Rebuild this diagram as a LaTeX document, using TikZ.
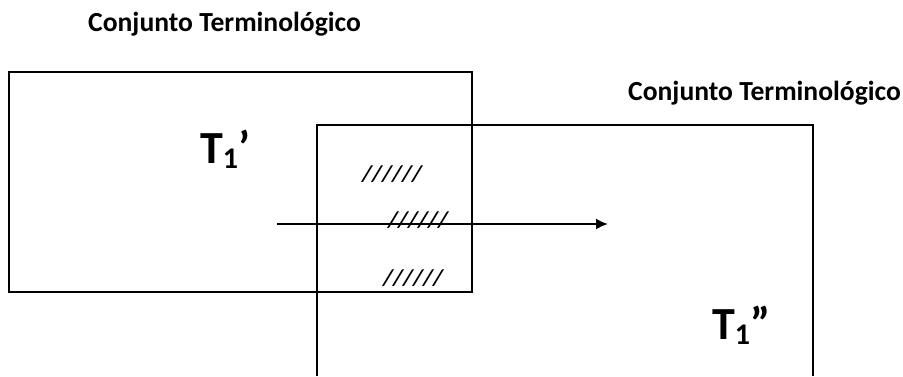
\documentclass[tikz,border=0pt]{standalone}
\usepackage{fontspec}
\setmainfont{Carlito}
\usetikzlibrary{arrows.meta}
\tikzset{
  frame/.style={draw=black, line width=2.2pt},
  setlabel/.style={anchor=base west, inner sep=0pt, font=\bfseries\fontsize{27.6}{30}\selectfont},
  term/.style={anchor=base west, inner sep=0pt, font=\bfseries\fontsize{46}{50}\selectfont},
  hatch/.style={anchor=base west, inner sep=0pt, font=\bfseries\itshape\fontsize{23}{26}\selectfont},
  flow/.style={draw=black, line width=2pt, -{Latex[length=12pt,width=11pt]}}
}
\newcommand{\subone}{\raisebox{-5pt}{\fontsize{30}{32}\selectfont 1}}
\begin{document}
\begin{tikzpicture}[x=1pt,y=-1pt]
  \useasboundingbox (0,0) rectangle (903,376);
  % the two terminological sets
  \draw[frame] (9,72) rectangle (472,292);
  \draw[frame] (317,376) -- (317,125) -- (813,125) -- (813,376);
  % headings
  \node[setlabel] (h1) at (88,31) {Conjunto Terminológico};
  \node[setlabel] (h2) at (628,100) {Conjunto Terminológico};
  % terms
  \node[term] (t1) at (200,163) {T\subone’};
  \node[term] (t2) at (712,339) {T\subone”};
  % shared zone markers
  \node[hatch] (s1) at (362,181) {//////};
  \node[hatch] (s2) at (388,227) {//////};
  \node[hatch] (s3) at (383,285) {//////};
  % transfer arrow
  \coordinate (from) at (277,224);
  \coordinate (to) at (608,224);
  \draw[flow] (from) -- (to);
\end{tikzpicture}
\end{document}
